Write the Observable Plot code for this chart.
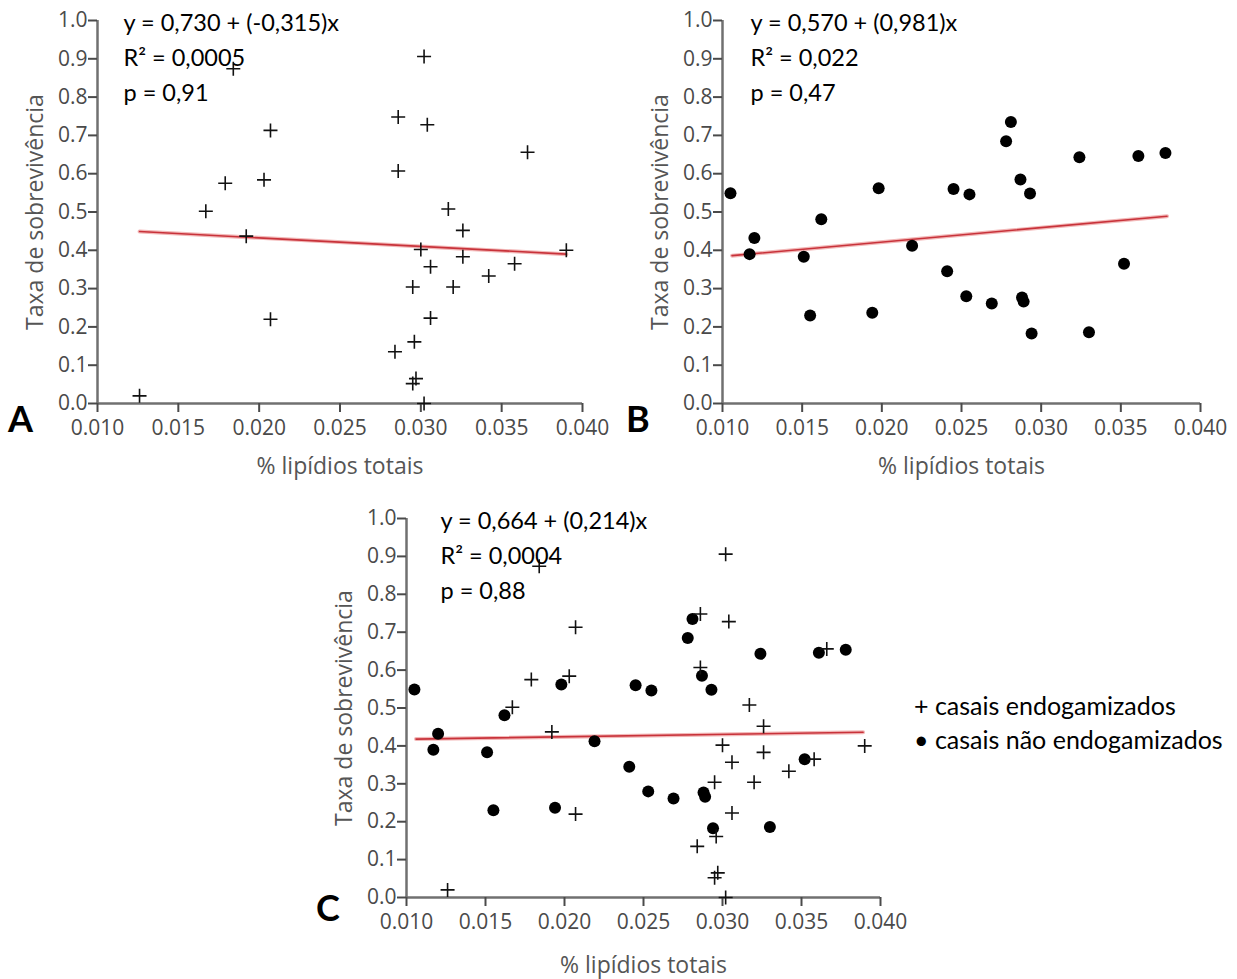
<!DOCTYPE html>
<html><head><meta charset="utf-8">
<script src="https://cdn.jsdelivr.net/npm/d3@7"></script>
<script src="https://cdn.jsdelivr.net/npm/@observablehq/plot@0.6"></script>
<style>
body{margin:0;background:#fff;width:1237px;height:979px;position:relative;overflow:hidden}
.pan{position:absolute}
.letter{position:absolute;font-family:Lato,sans-serif;font-weight:bold;font-size:36px;color:#000}
.leg{position:absolute;font-family:Lato,sans-serif;font-size:25px;color:#000;white-space:nowrap}
</style></head><body>
<div id="A" class="pan" style="left:0;top:0"></div>
<div id="B" class="pan" style="left:620px;top:0"></div>
<div id="C" class="pan" style="left:310px;top:490px"></div>
<div class="letter" style="left:8px;top:396px">A</div>
<div class="letter" style="left:626px;top:396px">B</div>
<div class="letter" style="left:316px;top:885px">C</div>
<div class="leg" style="left:914px;top:690px">+ casais endogamizados</div>
<div class="leg" style="left:914px;top:724px">• casais não endogamizados</div>
<script>
// Panel A: casais endogamizados (+)
const endoX = [0.0126,0.0167,0.0179,0.0184,0.0192,0.0203,0.0207,0.0207,0.0284,0.0286,0.0286,0.0295,0.0296,0.0295,0.0297,0.0300,0.0302,0.0302,0.0304,0.0306,0.0306,0.0317,0.0320,0.0326,0.0326,0.0342,0.0358,0.0366,0.0390];
const endoY = [0.020,0.502,0.575,0.874,0.437,0.584,0.713,0.220,0.135,0.748,0.607,0.304,0.161,0.052,0.065,0.402,0.906,0.000,0.728,0.357,0.223,0.508,0.304,0.452,0.383,0.333,0.365,0.656,0.400];
// Panel B: casais não endogamizados (•)
const naoX = [0.0105,0.0117,0.0120,0.0151,0.0155,0.0162,0.0194,0.0198,0.0219,0.0241,0.0245,0.0253,0.0255,0.0269,0.0278,0.0281,0.0287,0.0288,0.0289,0.0293,0.0294,0.0324,0.0330,0.0352,0.0361,0.0378];
const naoY = [0.549,0.390,0.432,0.383,0.230,0.481,0.237,0.562,0.412,0.345,0.560,0.280,0.546,0.261,0.685,0.735,0.585,0.277,0.266,0.548,0.183,0.643,0.186,0.365,0.646,0.654];
// Regression lines (endpoints as drawn)
const lineAx = [0.0126,0.0390], lineAy = [0.449,0.390];
const lineBx = [0.0106,0.0379], lineBy = [0.386,0.489];
const lineCx = [0.0106,0.0389], lineCy = [0.418,0.436];
// Annotations
const noteA = ["y = 0,730 + (-0,315)x","R² = 0,0005","p = 0,91"];
const noteB = ["y = 0,570 + (0,981)x","R² = 0,022","p = 0,47"];
const noteC = ["y = 0,664 + (0,214)x","R² = 0,0004","p = 0,88"];
const xTicks = [0.010,0.015,0.020,0.025,0.030,0.035,0.040];
const yTicks = [0,0.1,0.2,0.3,0.4,0.5,0.6,0.7,0.8,0.9,1.0];
const xLabel = "% lipídios totais", yLabel = "Taxa de sobrevivência";

const pts = (xs, ys) => xs.map((x,i)=>({x, y: ys[i]}));
const plusSym = {draw(ctx, size){const r = 7; ctx.moveTo(-r,0); ctx.lineTo(r,0); ctx.moveTo(0,-r); ctx.lineTo(0,r);}};

function panel(id, o){
  const marks = [
    Plot.ruleY([0], {stroke:"#707070", strokeWidth:2.5}),
    Plot.ruleX([0.010], {stroke:"#707070", strokeWidth:2.5}),
    Plot.axisX({ticks:xTicks, tickFormat:d3.format(".3f"), tickSize:9, tickPadding:8, fontSize:21, label:null, strokeWidth:2}),
    Plot.axisY({ticks:yTicks, tickFormat:d3.format(".1f"), tickSize:9, tickPadding:1, fontSize:21, label:null, strokeWidth:2}),
    Plot.text([xLabel], {frameAnchor:"bottom", dy:o.xlo, fontSize:23, fill:"#555", fontFamily:"'Open Sans'"}),
    Plot.text([yLabel], {frameAnchor:"left", dx:-o.ylo, rotate:-90, textAnchor:"middle", fontSize:23, fill:"#555", fontFamily:"'Open Sans'"}),
    Plot.line(pts(o.lx, o.ly), {x:"x", y:"y", stroke:"#f2b8b8", strokeWidth:4}),
    Plot.line(pts(o.lx, o.ly), {x:"x", y:"y", stroke:"#c8323a", strokeWidth:1.6}),
  ];
  if (o.dots) marks.push(Plot.dot(pts(naoX, naoY), {x:"x", y:"y", r:6, fill:"#000", stroke:"none"}));
  if (o.plus) marks.push(Plot.dot(pts(endoX, endoY), {x:"x", y:"y", symbol:plusSym, stroke:"#111", fill:"none", strokeWidth:1.6}));
  marks.push(Plot.text([o.note.join("\n")], {frameAnchor:"top-left", dx:o.ndx, dy:o.ndy, lineHeight:1.48, textAnchor:"start", fontSize:23.5, fill:"#000", fontFamily:"Lato"}));
  const chart = Plot.plot({
    width:o.w, height:o.h, marginLeft:o.ml, marginRight:o.mr, marginTop:o.mt, marginBottom:o.mb,
    x:{domain:[0.010,0.040]}, y:{domain:[0,1]},
    style:{fontFamily:"'Open Sans', sans-serif", fontSize:"21px", color:"#4a4a4a", background:"transparent", overflow:"visible"},
    marks
  });
  document.getElementById(id).appendChild(chart);
}
panel("A", {w:620, h:480, ml:97, mr:38, mt:20, mb:77, lx:lineAx, ly:lineAy, plus:true, dots:false, note:noteA, ndx:26, ndy:-14, xlo:70, ylo:62});
panel("B", {w:617, h:480, ml:102, mr:37, mt:20, mb:77, lx:lineBx, ly:lineBy, plus:false, dots:true, note:noteB, ndx:28, ndy:-14, xlo:70, ylo:62});
panel("C", {w:608, h:489, ml:96, mr:38, mt:28, mb:82, lx:lineCx, ly:lineCy, plus:true, dots:true, note:noteC, ndx:34, ndy:-14, xlo:75, ylo:62});
</script>
</body></html>
